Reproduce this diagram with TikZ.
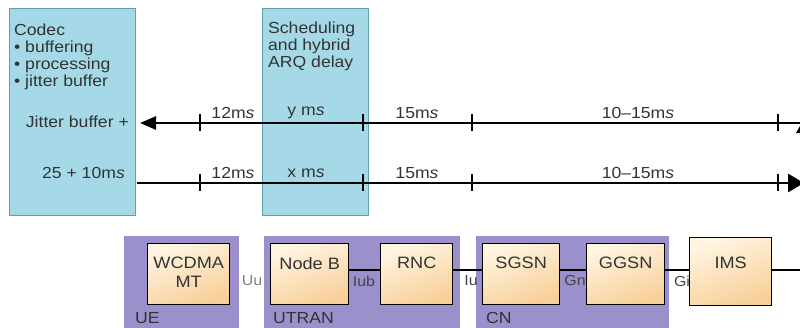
\documentclass[tikz,border=0pt]{standalone}
\usepackage{fontspec}
\setmainfont[FakeStretch=1.1]{Liberation Sans}
\usetikzlibrary{arrows.meta}
\definecolor{bluefill}{HTML}{A6D9E8}
\definecolor{blueline}{HTML}{5F9FAF}
\definecolor{purp}{HTML}{9B8FCC}
\definecolor{orL}{HTML}{FFF5E2}
\definecolor{orD}{HTML}{F8CF98}
\definecolor{txt}{HTML}{333333}
\definecolor{ifc}{HTML}{444444}
\tikzset{
  bluebox/.style={draw=blueline, line width=0.8pt, fill=bluefill, inner sep=0pt, anchor=north west},
  groupbox/.style={fill=purp, inner sep=0pt, anchor=north west},
  elbox/.style={draw=black, line width=1.4pt, top color=orL, bottom color=orD, shading angle=20, inner sep=0pt, anchor=north west},
  lbl/.style={text=txt, font=\fontsize{16}{17}\selectfont, inner sep=0pt},
  boxtxt/.style={text=txt, font=\fontsize{16.5}{18.5}\selectfont, inner sep=0pt, align=center, anchor=north},
  ifl/.style={text=ifc, font=\fontsize{14.5}{15}\selectfont, inner sep=0pt},
  tline/.style={line width=2.8pt, black},
  tickmark/.style={line width=1.2pt, black},
  link/.style={line width=2.4pt, black}
}
\begin{document}
\begin{tikzpicture}[x=1pt,y=-1pt]
\clip (0,0) rectangle (800,327);
\fill[white] (0,0) rectangle (800,327);

% blue boxes
\node[bluebox, minimum width=126pt, minimum height=207pt] (codec) at (9,8) {};
\node[bluebox, minimum width=106pt, minimum height=207pt] (sched) at (262,8) {};
\node[lbl, align=left, anchor=north west] (codecT) at (14,24) {Codec\\\textbullet\ buffering\\\textbullet\ processing\\\textbullet\ jitter buffer};
\node[lbl, align=left, anchor=north west] (schedT) at (268,22) {Scheduling\\and hybrid\\ARQ delay};

% timeline 1
\coordinate (r1s) at (140,123);
\coordinate (r1e) at (801,123);
\draw[tline, {Triangle[length=16pt,width=13pt]}-] (r1s) -- (r1e);
\fill[black] (796,133) -- (800,126) -- (800,133) -- cycle;
% timeline 2
\coordinate (r2s) at (137,183);
\coordinate (r2e) at (804,183);
\draw[tline, -{Triangle[length=16pt,width=18pt]}] (r2s) -- (r2e);
\foreach \x in {200,363,472,778} {
  \draw[tickmark] (\x,114) -- (\x,131);
  \draw[tickmark] (\x,174) -- (\x,191);
}

\node[lbl, anchor=east] (jit) at (129,122) {Jitter buffer +};
\node[lbl, anchor=east] (tf) at (125,173) {25 + 10m\textit{s}};

\node[lbl] (a12) at (233,113) {12m\textit{s}};
\node[lbl] (ay) at (306,113) {y m\textit{s}};
\node[lbl] (a15) at (417,113) {15m\textit{s}};
\node[lbl] (a1015) at (638,113) {10--15m\textit{s}};
\node[lbl] (b12) at (233,173) {12m\textit{s}};
\node[lbl] (bx) at (306,173) {x m\textit{s}};
\node[lbl] (b15) at (417,173) {15m\textit{s}};
\node[lbl] (b1015) at (638,173) {10--15m\textit{s}};

% groups
\node[groupbox, minimum width=115pt, minimum height=100pt] (ue) at (124,236) {};
\node[groupbox, minimum width=196pt, minimum height=100pt] (utran) at (264,236) {};
\node[groupbox, minimum width=193pt, minimum height=100pt] (cn) at (476,236) {};
\node[lbl, anchor=west] (ueL) at (135,318) {UE};
\node[lbl, anchor=west] (utranL) at (273,318) {UTRAN};
\node[lbl, anchor=west] (cnL) at (486,318) {CN};

% interface labels
\node[ifl, text=gray] (uu) at (252,281) {Uu};
\node[ifl] (iub) at (364,281) {Iub};
\node[ifl] (iu) at (471,281) {Iu};
\node[ifl] (gn) at (575,281) {Gn};
\node[ifl] (gi) at (682,281) {Gi};

% elements
\node[elbox, minimum width=82pt, minimum height=61pt] (wcdma) at (147,243) {};
\node[elbox, minimum width=78pt, minimum height=61pt] (nodeb) at (270,243) {};
\node[elbox, minimum width=72pt, minimum height=61pt] (rnc) at (380,243) {};
\node[elbox, minimum width=77pt, minimum height=61pt] (sgsn) at (482,243) {};
\node[elbox, minimum width=78pt, minimum height=61pt] (ggsn) at (586,243) {};
\node[elbox, minimum width=82pt, minimum height=68pt] (ims) at (689,237) {};

\node[boxtxt] (wcdmaT) at ([yshift=-14pt]wcdma.north) {WCDMA\\MT};
\node[boxtxt] (nodebT) at ([yshift=-14pt]nodeb.north) {Node B};
\node[boxtxt] (rncT) at ([yshift=-14pt]rnc.north) {RNC};
\node[boxtxt] (sgsnT) at ([yshift=-14pt]sgsn.north) {SGSN};
\node[boxtxt] (ggsnT) at ([yshift=-14pt]ggsn.north) {GGSN};
\node[boxtxt] (imsT) at ([yshift=-20pt]ims.north) {IMS};

\coordinate (ly) at (0,270);
\coordinate (rend) at (801,270);
\draw[link] (nodeb.east |- ly) -- (rnc.west |- ly);
\draw[link] (rnc.east |- ly) -- (sgsn.west |- ly);
\draw[link] (sgsn.east |- ly) -- (ggsn.west |- ly);
\draw[link] (ggsn.east |- ly) -- (ims.west |- ly);
\draw[link] (ims.east |- ly) -- (rend);
\end{tikzpicture}
\end{document}
